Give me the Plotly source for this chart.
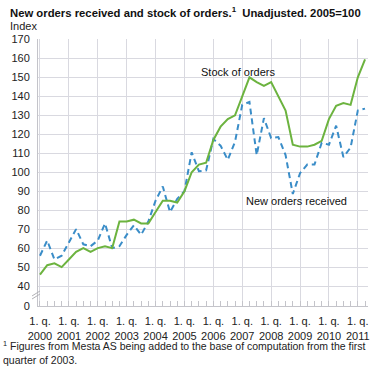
import plotly.graph_objects as go

quarters = list(range(46))  # 2000 Q1 .. 2011 Q2
year_labels = ["1. q.<br>%d" % y for y in range(2000, 2012)]
year_pos = list(range(0, 46, 4))

stock_of_orders = [46, 51, 52, 50, 54, 58, 60, 58, 60, 61, 60, 74,
                   74, 75, 73, 73, 79, 85, 85, 84, 90, 100, 104, 105,
                   117, 124, 128, 130, 140, 150, 147.5, 145.5, 147.5, 140, 132.5, 114.5,
                   113.5, 113.5, 114.5, 116.5, 128, 135, 136.5, 135.5, 150, 159.5]
new_orders = [56, 64, 54, 56, 63, 70, 62, 61, 64, 73, 60, 61,
              67, 72, 67, 74, 85, 92.5, 79, 86, 90, 110.5, 100.5, 101,
              117.5, 114, 106.5, 116, 135.5, 137, 109, 128.5, 118, 118.5, 109, 88.5,
              99.5, 104, 104, 115.5, 114.5, 124.5, 108, 113, 132.5, 133.5]

y_ticks = [29.5] + list(range(40, 171, 10))
y_text = ["0"] + [str(v) for v in range(40, 171, 10)]

FONT = "Liberation Sans, Arial, sans-serif"
GREEN = "#6cb33f"
BLUE = "#3a8dc8"
GRID = "#d9d9e0"
AXIS = "#c4c4ca"

fig = go.Figure()
fig.add_trace(go.Scatter(x=quarters, y=new_orders, mode="lines",
                         line=dict(color=BLUE, width=2, dash="6px,4px"),
                         name="New orders received", showlegend=False))
fig.add_trace(go.Scatter(x=quarters, y=stock_of_orders, mode="lines",
                         line=dict(color=GREEN, width=2),
                         name="Stock of orders", showlegend=False))

fig.update_layout(
    width=381, height=367,
    margin=dict(l=38, r=11, t=39, b=61),
    paper_bgcolor="white", plot_bgcolor="white",
    font=dict(family=FONT, size=11, color="#222"),
    xaxis=dict(range=[-0.275, 45.41], tickmode="array", tickvals=year_pos,
               ticktext=year_labels, showgrid=True, gridcolor=GRID, gridwidth=1,
               zeroline=False, showline=True, linecolor=AXIS, linewidth=1,
               ticks="inside", ticklen=5, tickcolor=AXIS, ticklabelstandoff=5,
               minor=dict(tickmode="array", tickvals=quarters, ticks="inside",
                          ticklen=5, tickcolor=AXIS, showgrid=False),
               tickfont=dict(size=11, family=FONT, color="#222"), fixedrange=True),
    yaxis=dict(range=[29.5, 170.2], tickmode="array", tickvals=y_ticks, ticktext=y_text,
               showgrid=True, gridcolor=GRID, gridwidth=1, zeroline=False,
               showline=True, linecolor=AXIS, linewidth=1, ticks="",
               ticklabelstandoff=5,
               tickfont=dict(size=11, family=FONT, color="#222"), fixedrange=True),
    annotations=[
        dict(x=0, y=1, xref="paper", yref="paper", xshift=-30, yshift=36,
             text="<b>New orders received and stock of orders.<sup>1</sup>  Unadjusted. 2005=100</b>",
             showarrow=False, xanchor="left", yanchor="top",
             font=dict(size=11.3, family=FONT, color="#111")),
        dict(x=0, y=1, xref="paper", yref="paper", xshift=-30, yshift=21,
             text="Index", showarrow=False, xanchor="left", yanchor="top",
             font=dict(size=11, family=FONT, color="#222")),
        dict(x=27.4, y=153, text="Stock of orders", showarrow=False,
             font=dict(size=11, family=FONT, color="#111")),
        dict(x=35.5, y=85, text="New orders received", showarrow=False,
             font=dict(size=11, family=FONT, color="#111")),
        dict(x=0, y=0, xref="paper", yref="paper", xshift=-37, yshift=-31,
             text="<sup>1</sup> Figures from Mesta AS being added to the base of computation from the first<br>quarter of 2003.",
             showarrow=False, xanchor="left", yanchor="top", align="left",
             font=dict(size=10.5, family=FONT, color="#222")),
    ],
    shapes=[
        dict(type="line", xref="paper", yref="y", x0=-0.018, x1=0.006, y0=34.8, y1=37.4,
             line=dict(color="#b0b0b5", width=1)),
        dict(type="line", xref="paper", yref="y", x0=-0.018, x1=0.006, y0=33.2, y1=35.8,
             line=dict(color="#b0b0b5", width=1)),
    ],
)

fig.write_html(
    "out.html",
    config={"displayModeBar": False},
    post_script="document.body.style.margin='0';document.body.style.overflow='hidden';"
                "document.documentElement.style.overflow='hidden';",
)
